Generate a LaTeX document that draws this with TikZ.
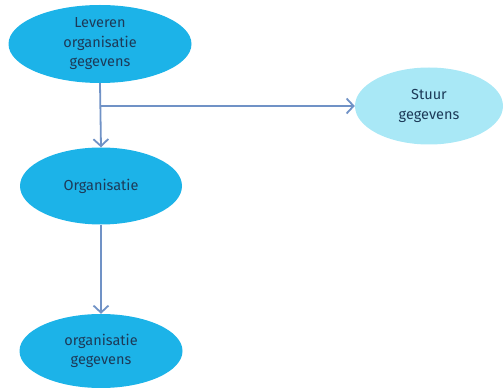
\documentclass[tikz,border=0pt]{standalone}
\usepackage{fontspec}
\setmainfont{Fira Sans}
\usetikzlibrary{shapes.geometric,arrows.meta}
\definecolor{ebl}{HTML}{1CB3E8}
\definecolor{elt}{HTML}{A9E8F6}
\definecolor{txt}{HTML}{1C3A58}
\definecolor{arr}{HTML}{7092C6}
\tikzset{
  ell/.style={ellipse, fill=ebl, draw=none, inner sep=0pt, text=txt, align=center,
    font=\fontsize{14.5}{19.5}\selectfont},
  ellt/.style={ell, fill=elt},
  conn/.style={draw=arr, line width=1.8pt, -{Straight Barb[length=7pt,width=15pt,line width=1.8pt]}}
}
\begin{document}
\begin{tikzpicture}[x=1pt,y=-1pt]
\useasboundingbox (0,0) rectangle (504,390);
\node[ell, minimum width=183pt, minimum height=78pt] (e1) at (100,44) {Leveren\\organisatie\\gegevens};
\node[ell, minimum width=162pt, minimum height=77pt] (e2) at (101,186) {Organisatie};
\node[ell, minimum width=163pt, minimum height=74pt] (e3) at (101,351) {organisatie\\gegevens};
\node[ellt, minimum width=148pt, minimum height=77pt] (e4) at (429,106) {Stuur\\gegevens};
\coordinate (j) at (100,106);
\draw[conn] (e1.south) -- (e2.north);
\draw[conn] (j) -- (e4.west);
\draw[conn] (e2.south) -- (e3.north);
\end{tikzpicture}
\end{document}
